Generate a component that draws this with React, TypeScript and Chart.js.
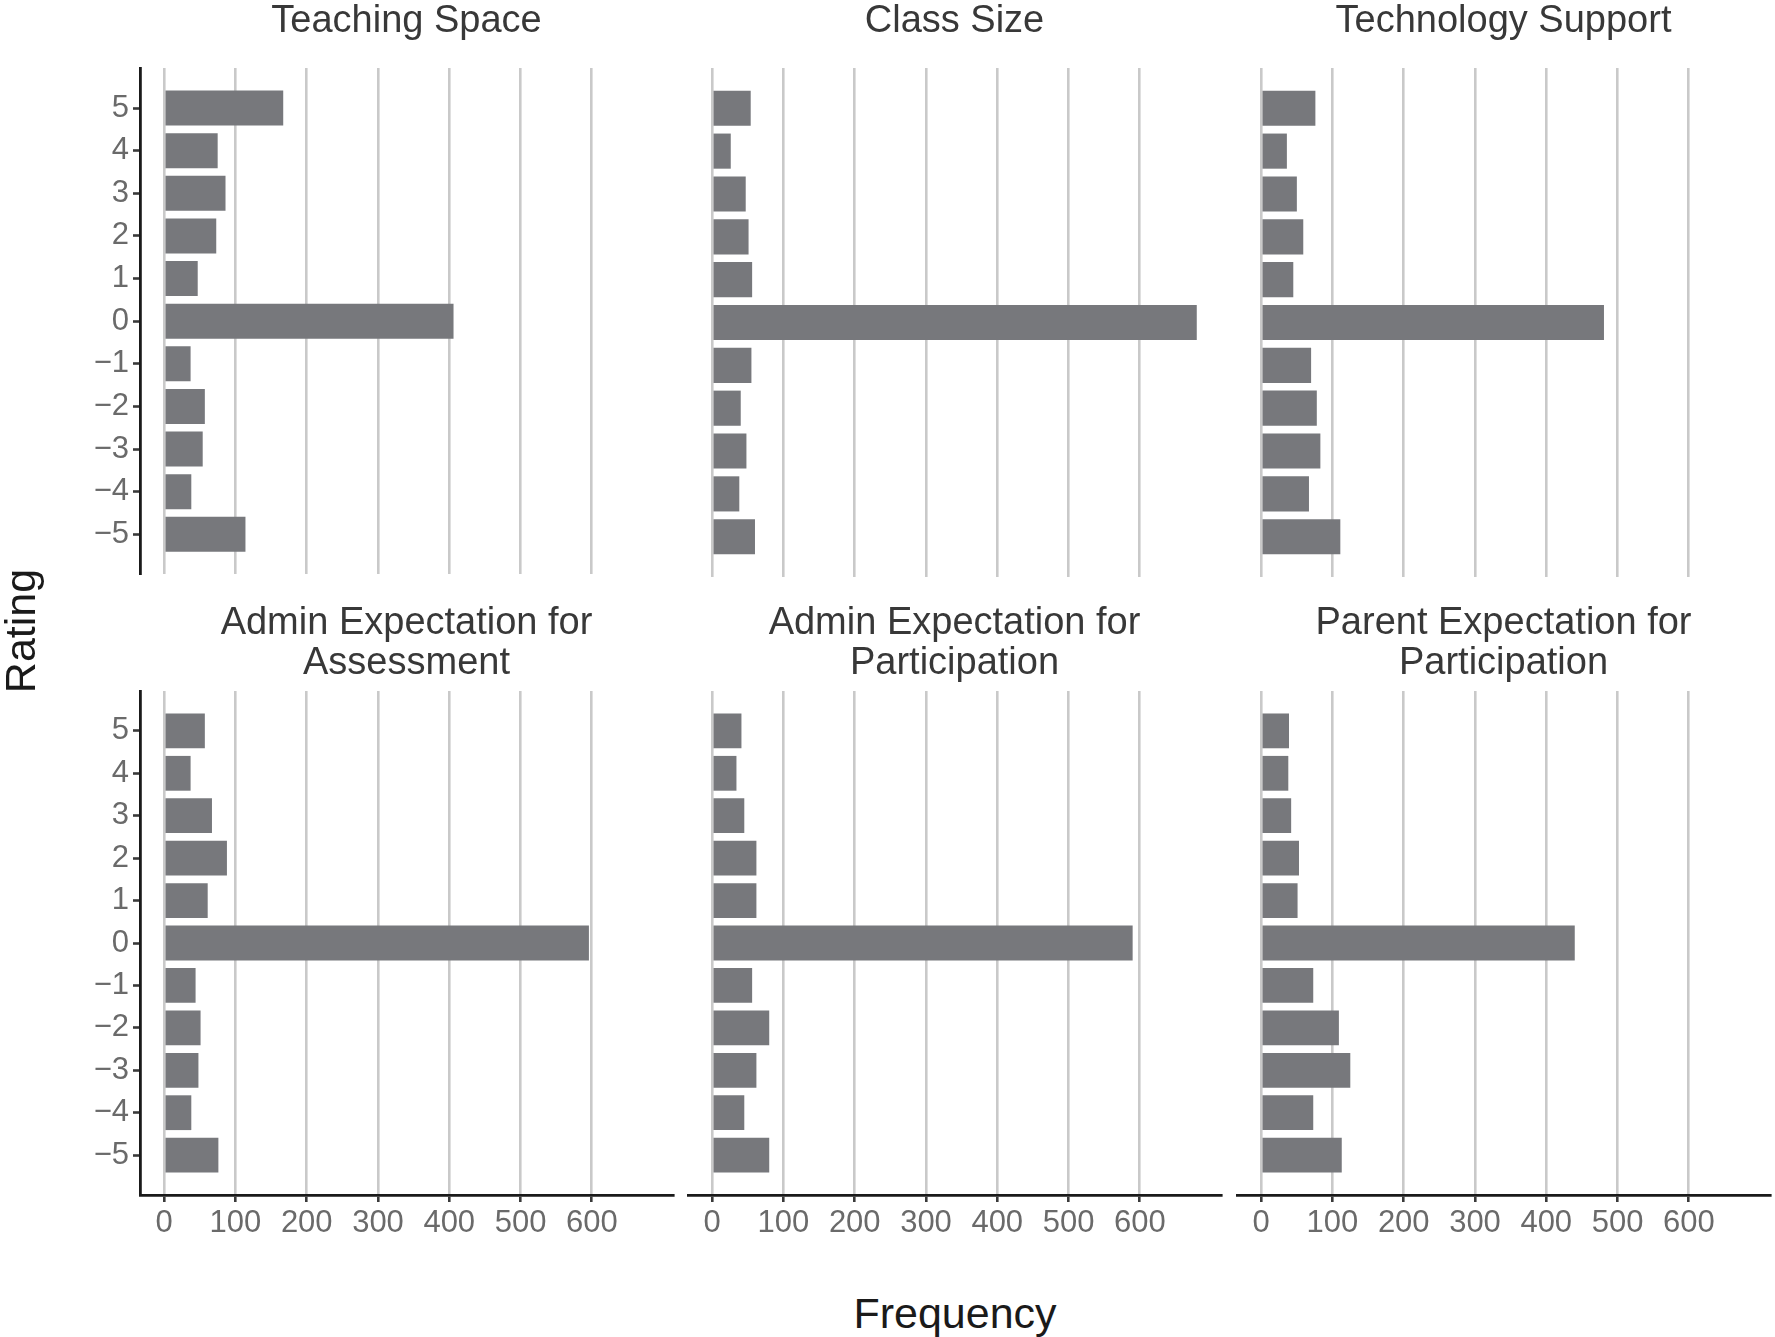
import { useEffect, useRef } from "react";
import { Chart, registerables } from "chart.js";

Chart.register(...registerables);

// ratings run from -5 up to 5, every series below follows this order
const ratings = [-5, -4, -3, -2, -1, 0, 1, 2, 3, 4, 5];
const ratingTicks = [-5, -4, -3, -2, -1, 0, 1, 2, 3, 4, 5];
const frequencyTicks = [0, 100, 200, 300, 400, 500, 600];

const teachingSpace = [114, 38, 54, 57, 37, 406, 47, 73, 86, 75, 167];
const classSize = [60, 38, 48, 40, 55, 680, 56, 51, 47, 26, 54];
const technologySupport = [111, 67, 83, 78, 70, 481, 45, 59, 50, 36, 76];
const adminAssessment = [76, 38, 48, 51, 44, 596, 61, 88, 67, 37, 57];
const adminParticipation = [80, 45, 62, 80, 56, 590, 62, 62, 45, 34, 41];
const parentParticipation = [113, 73, 125, 109, 73, 440, 51, 53, 42, 38, 39];

const panels = [
  { title: "Teaching Space", values: teachingSpace },
  { title: "Class Size", values: classSize },
  { title: "Technology Support", values: technologySupport },
  { title: ["Admin Expectation for", "Assessment"], values: adminAssessment },
  { title: ["Admin Expectation for", "Participation"], values: adminParticipation },
  { title: ["Parent Expectation for", "Participation"], values: parentParticipation },
];

const FONT = "'Liberation Sans', Arial, Helvetica, sans-serif";
const PANEL_LEFT = [140, 688, 1237];
const PANEL_W = 533;
const PANEL_H = 504;
const SIDE = 100;
const TOP_TITLE_H = 68;
const BOTTOM_TITLE_H = 90;
const TOP_XAXIS_H = 20;
const BOTTOM_XAXIS_H = 60;

interface PanelProps {
  title: string | string[];
  values: number[];
  col: number;
  row: number;
}

const BarPanel = ({ title, values, col, row }: PanelProps) => {
  const canvasRef = useRef<HTMLCanvasElement | null>(null);
  const bottomRow = row === 1;
  const firstCol = col === 0;
  const height = bottomRow
    ? BOTTOM_TITLE_H + PANEL_H + BOTTOM_XAXIS_H
    : TOP_TITLE_H + PANEL_H + TOP_XAXIS_H + 5;

  useEffect(() => {
    if (!canvasRef.current) return;
    const chart = new Chart(canvasRef.current, {
      type: "bar",
      data: {
        datasets: [
          {
            data: values.map((v, i) => ({ x: v, y: ratings[i] })),
            backgroundColor: "#77787c",
            borderWidth: 0,
            categoryPercentage: 1,
            barPercentage: 0.82,
          },
        ],
      },
      options: {
        indexAxis: "y",
        responsive: false,
        animation: false,
        layout: { padding: 0 },
        plugins: {
          legend: { display: false },
          tooltip: { enabled: false },
          title: {
            display: true,
            text: title,
            color: "#383838",
            font: {
              family: FONT,
              size: 38,
              weight: "normal",
              lineHeight: bottomRow ? 40 / 38 : 1,
            },
            padding: bottomRow ? { top: 3, bottom: 7 } : { top: 3, bottom: 27 },
          },
        },
        scales: {
          x: {
            type: "linear",
            min: -34,
            max: 714,
            afterBuildTicks: (scale) => {
              scale.ticks = frequencyTicks.map((value) => ({ value }));
            },
            afterFit: (scale) => {
              scale.height = bottomRow ? BOTTOM_XAXIS_H : TOP_XAXIS_H;
            },
            grid: {
              color: "#c9c9c9",
              lineWidth: 2.6,
              drawTicks: bottomRow,
              tickLength: 7,
              tickColor: "#3a3a3a",
              tickWidth: 2.6,
            },
            border: { display: bottomRow, color: "#1a1a1a", width: 2.8 },
            ticks: {
              display: bottomRow,
              color: "#6a6a6a",
              padding: 3,
              maxRotation: 0,
              font: { family: FONT, size: 31 },
            },
          },
          y: {
            type: "linear",
            position: "left",
            min: -5.94,
            max: 5.94,
            offset: false,
            afterBuildTicks: (scale) => {
              scale.ticks = ratingTicks.map((value) => ({ value }));
            },
            afterFit: (scale) => {
              scale.width = SIDE;
            },
            grid: {
              display: firstCol,
              offset: false,
              drawOnChartArea: false,
              drawTicks: true,
              tickLength: 7,
              tickColor: "#3a3a3a",
              tickWidth: 2.6,
            },
            border: { display: firstCol, color: "#1a1a1a", width: 2.8 },
            ticks: {
              display: firstCol,
              color: "#6a6a6a",
              padding: 4,
              font: { family: FONT, size: 31 },
              callback: (v) => {
                const n = Number(v);
                return n < 0 ? "\u2212" + Math.abs(n) : String(n);
              },
            },
          },
          // empty right-hand axis, only there so the panel title centres over the plot
          spacer: {
            type: "linear",
            axis: "y",
            position: "right",
            min: -5.94,
            max: 5.94,
            afterFit: (scale) => {
              scale.width = SIDE;
            },
            grid: { display: false },
            border: { display: false },
            ticks: { display: false },
          },
        },
      },
    });
    return () => {
      chart.destroy();
    };
  }, [title, values, col, row]);

  return (
    <canvas
      ref={canvasRef}
      width={PANEL_W + 2 * SIDE}
      height={height}
      style={{
        position: "absolute",
        left: PANEL_LEFT[col] - SIDE,
        top: bottomRow ? 601 : 0,
      }}
    />
  );
};

export default function App() {
  return (
    <div
      style={{
        position: "absolute",
        left: 0,
        top: 0,
        width: 1775,
        height: 1337,
        overflow: "hidden",
        background: "#ffffff",
        fontFamily: FONT,
      }}
    >
      {panels.map((p, i) => (
        <BarPanel key={i} title={p.title} values={p.values} col={i % 3} row={Math.floor(i / 3)} />
      ))}
      <div
        style={{
          position: "absolute",
          left: 20 - 100,
          top: 631 - 22,
          width: 200,
          height: 44,
          lineHeight: "44px",
          fontSize: 43,
          textAlign: "center",
          color: "#1a1a1a",
          transform: "rotate(-90deg)",
          whiteSpace: "nowrap",
        }}
      >
        Rating
      </div>
      <div
        style={{
          position: "absolute",
          left: 955 - 150,
          top: 1292,
          width: 300,
          lineHeight: "43px",
          fontSize: 43,
          textAlign: "center",
          color: "#1a1a1a",
          whiteSpace: "nowrap",
        }}
      >
        Frequency
      </div>
    </div>
  );
}
